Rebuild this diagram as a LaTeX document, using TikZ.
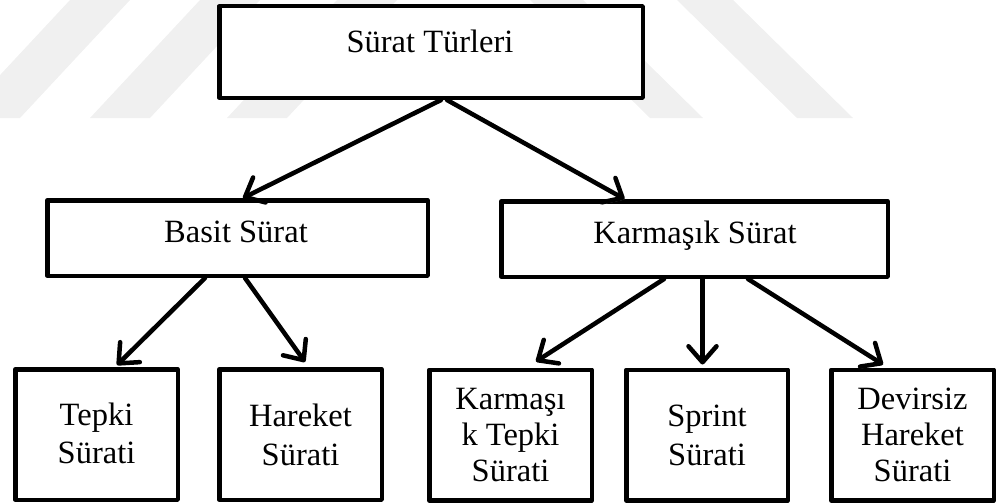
\documentclass[tikz,border=0pt]{standalone}
\usepackage{fontspec}
\setmainfont{Liberation Serif}
\usetikzlibrary{arrows.meta,calc}
\begin{document}
\begin{tikzpicture}[x=1pt,y=-1pt,
  box/.style={draw=black,line width=4.5pt,fill=white,line join=round,inner sep=0pt},
  txt/.style={font=\fontsize{32.5}{38.5}\selectfont,align=center,inner sep=0pt},
  txtt/.style={font=\fontsize{32.5}{36}\selectfont,align=center,inner sep=0pt},
  conn/.style={line width=4.5pt,line cap=round,
    -{Straight Barb[length=16pt,width=28pt,line cap=round,line join=round]},
    preaction={draw=black!20,transform canvas={xshift=1.5pt,yshift=-1.5pt}}},
  wm/.style={fill=black!6,draw=none}]
\useasboundingbox (0,0) rectangle (998,503);
% faint watermark stripes
\fill[wm] (70,0) -- (130,0) -- (20,118) -- (-40,118) -- cycle;
\fill[wm] (200,0) -- (260,0) -- (150,118) -- (90,118) -- cycle;
\fill[wm] (337,0) -- (397,0) -- (287,118) -- (227,118) -- cycle;
\fill[wm] (530,0) -- (583,0) -- (703,118) -- (650,118) -- cycle;
\fill[wm] (677,0) -- (733,0) -- (853,118) -- (797,118) -- cycle;
% boxes
\node[box,minimum width=423.5pt,minimum height=91.5pt] (top) at (431,52) {};
\node[txt,anchor=base] (toptxt) at (430,52.7) {Sürat Türleri};
\node[box,minimum width=380.5pt,minimum height=75.5pt] (basit) at (237.5,238) {};
\node[txt,anchor=base] (basittxt) at (236,242) {Basit Sürat};
\node[box,minimum width=386.5pt,minimum height=75.5pt] (karm) at (694.5,239) {};
\node[txt,anchor=base] (karmtxt) at (695,243) {Karmaşık Sürat};
\node[box,minimum width=162.5pt,minimum height=130.5pt] (tepki) at (96.5,434.5) {};
\node[txt] (tepkitxt) at (96.5,433.5) {Tepki\\Sürati};
\node[box,minimum width=162.5pt,minimum height=130.5pt] (hareket) at (300.5,434.5) {};
\node[txt] (harekettxt) at (300.5,435) {Hareket\\Sürati};
\node[box,minimum width=162.5pt,minimum height=130.5pt] (ktepki) at (510.5,435) {};
\node[txtt] (ktepkitxt) at (510.5,435) {Karmaşı\\k Tepki\\Sürati};
\node[box,minimum width=161.5pt,minimum height=130.5pt] (sprint) at (707,435) {};
\node[txt] (sprinttxt) at (707,435.5) {Sprint\\Sürati};
\node[box,minimum width=162.5pt,minimum height=130.5pt] (devir) at (912.5,435) {};
\node[txtt] (devirtxt) at (912.5,435) {Devirsiz\\Hareket\\Sürati};
% connectors
\draw[conn] ($(top.south)+(10,0)$) -- ($(basit.north)+(5.5,0)$);
\draw[conn] ($(top.south)+(16,0)$) -- ($(karm.north)+(-70,0)$);
\draw[conn] ($(basit.south)+(-32.5,0)$) -- ($(tepki.north)+(20.5,-2)$);
\draw[conn] ($(basit.south)+(7.5,0)$) -- ($(hareket.north)+(4.5,-5)$);
\draw[conn] ($(karm.south)+(-30.5,0)$) -- ($(ktepki.north)+(25.5,-6)$);
\draw[conn] ($(karm.south)+(8,0)$) -- ($(sprint.north)+(-4.5,-3)$);
\draw[conn] ($(karm.south)+(53.5,0)$) -- ($(devir.north)+(-29.5,-3)$);
\end{tikzpicture}
\end{document}
